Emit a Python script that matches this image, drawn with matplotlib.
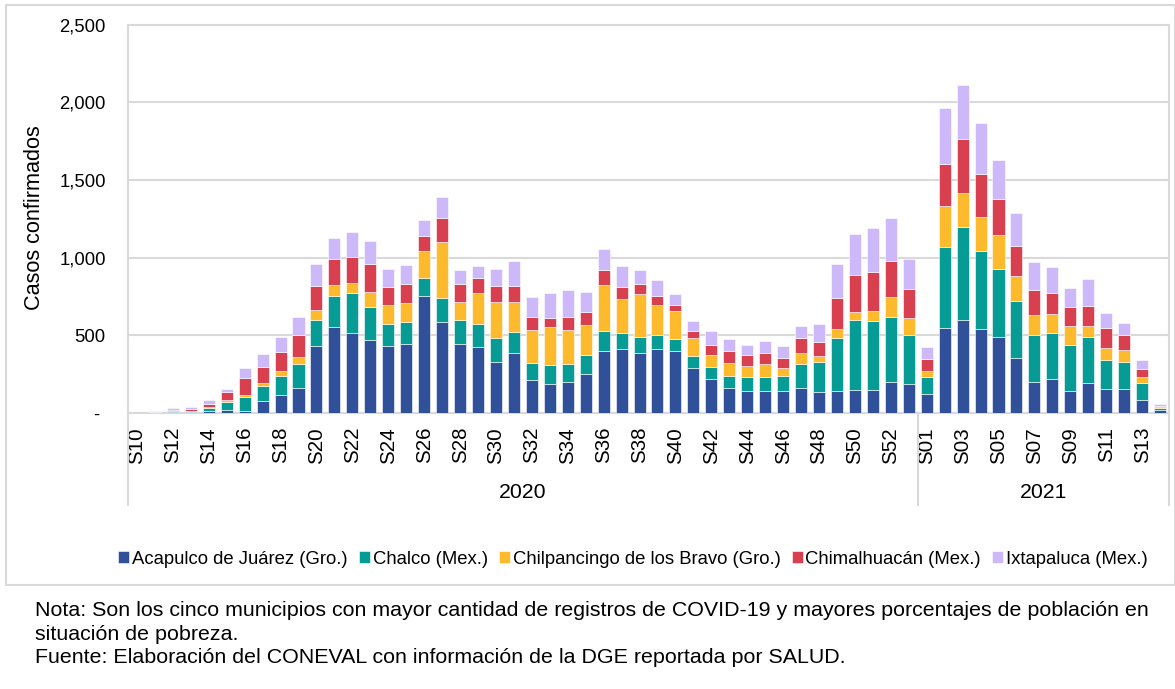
import numpy as np
import matplotlib.pyplot as plt
from matplotlib.patches import Rectangle
from matplotlib.ticker import FuncFormatter, MultipleLocator

plt.rcParams['font.family'] = ['Liberation Sans', 'DejaVu Sans']

# semanas epidemiologicas: 2020 S10-S53, 2021 S01-S14
sem_2020 = ['S%02d' % s for s in range(10, 54)]
sem_2021 = ['S%02d' % s for s in range(1, 15)]
semanas = sem_2020 + sem_2021

acapulco = [0, 1, 6, 4, 11, 19, 15, 80, 116, 163, 434, 551, 514, 467, 428, 445, 755, 583, 447, 422,
            325, 383, 215, 189, 202, 254, 402, 409, 387, 415, 396, 290, 219, 163, 142, 142, 140, 161,
            133, 142, 151, 148, 200, 187,
            123, 546, 598, 542, 488, 353, 198, 219, 144, 194, 153, 157, 86, 17]
chalco = [0, 4, 5, 7, 21, 50, 88, 94, 125, 153, 166, 204, 256, 213, 146, 142, 116, 159, 149, 148,
          157, 140, 108, 121, 114, 118, 127, 105, 103, 90, 82, 76, 76, 76, 90, 90, 99, 153,
          194, 340, 447, 444, 420, 314,
          107, 523, 600, 499, 437, 368, 303, 295, 291, 292, 189, 172, 108, 15]
chilpancingo = [0, 2, 4, 4, 7, 13, 11, 17, 30, 43, 65, 71, 67, 101, 121, 123, 174, 359, 120, 200,
                234, 191, 210, 243, 220, 194, 295, 220, 276, 190, 176, 116, 79, 81, 73, 82, 51, 71,
                39, 60, 49, 64, 126, 108,
                39, 262, 217, 222, 221, 159, 129, 121, 126, 71, 75, 78, 38, 7]
chimalhuacan = [0, 2, 7, 9, 17, 54, 112, 108, 120, 146, 152, 163, 165, 178, 118, 122, 97, 157, 114, 99,
                104, 103, 86, 56, 79, 84, 95, 77, 62, 56, 43, 45, 61, 78, 67, 73, 63, 99,
                92, 200, 241, 250, 235, 189,
                77, 274, 345, 273, 231, 196, 162, 137, 123, 131, 132, 98, 48, 8]
ixtapaluca = [0, 2, 8, 13, 26, 19, 62, 82, 99, 114, 142, 138, 164, 147, 116, 119, 99, 129, 93, 77,
              107, 162, 125, 161, 177, 129, 135, 133, 90, 107, 69, 67, 94, 75, 67, 75, 77, 75,
              112, 217, 263, 284, 273, 192,
              76, 357, 350, 327, 249, 208, 178, 168, 120, 172, 92, 76, 60, 13]

series = [acapulco, chalco, chilpancingo, chimalhuacan, ixtapaluca]
nombres = ['Acapulco de Juárez (Gro.)', 'Chalco (Mex.)', 'Chilpancingo de los Bravo (Gro.)',
           'Chimalhuacán (Mex.)', 'Ixtapaluca (Mex.)']
colores = ['#30509A', '#079B96', '#FDBA2C', '#D8404F', '#CDB8FA']

gris = '#D9D9D9'
fs = 13.3

fig = plt.figure(figsize=(11.75, 6.89), dpi=100)
# marco del area del grafico
fig.patches.append(Rectangle((6 / 1175, 1 - 585 / 689), 1 - 6 / 1175, (585 - 5) / 689,
                             transform=fig.transFigure, fill=False, edgecolor=gris, lw=1.5))

ax = fig.add_axes([128 / 1175, 1 - 413 / 689, (1169 - 128) / 1175, (413 - 24.5) / 689])

x = np.arange(len(semanas))
base = np.zeros(len(semanas))
for vals, nom, col in zip(series, nombres, colores):
    vals = np.array(vals, dtype=float)
    ax.bar(x, vals, 0.67, bottom=base, color=col, edgecolor='white', linewidth=0.4, label=nom, zorder=3)
    base += vals

ax.set_xlim(-0.5, len(semanas) - 0.5)
ax.set_ylim(0, 2500)
ax.yaxis.set_major_locator(MultipleLocator(500))
ax.yaxis.set_major_formatter(FuncFormatter(lambda v, p: '- ' if v == 0 else f'{int(v):,}'))
ax.grid(axis='y', color=gris, lw=1.5, zorder=0)
for s in ax.spines.values():
    s.set_color(gris)
    s.set_linewidth(1.5)
ax.tick_params(axis='y', length=0, pad=16, labelsize=fs)
ax.set_xticks(x[::2])
ax.set_xticklabels(semanas[::2], rotation=90, fontsize=14.8)
ax.tick_params(axis='x', length=0, pad=10)

# segundo nivel del eje: anios
trans = ax.get_xaxis_transform()
y_sep = -92 / 388.5
for xs in [-0.5, len(sem_2020) - 0.5, len(semanas) - 0.5]:
    ax.plot([xs, xs], [0, y_sep], color=gris, lw=1.5, transform=trans, clip_on=False)
ax.text((len(sem_2020) - 1) / 2, -79 / 388.5, '2020', transform=trans, ha='center', va='center', fontsize=15.3)
ax.text(len(sem_2020) + (len(sem_2021) - 1) / 2, -79 / 388.5, '2021', transform=trans,
        ha='center', va='center', fontsize=15.3)

fig.text(35 / 1175, 1 - 218 / 689, 'Casos confirmados', rotation=90, ha='center', va='center', fontsize=15.6)

fig.legend(loc='center', bbox_to_anchor=(633 / 1175, 1 - 559 / 689), ncol=5, frameon=False,
           fontsize=fs, handlelength=0.6, handleheight=0.6, handletextpad=0.15, columnspacing=0.6)

fig.text(35 / 1175, 1 - 601 / 689,
         'Nota: Son los cinco municipios con mayor cantidad de registros de COVID-19 y mayores porcentajes de población en\n'
         'situación de pobreza.\n'
         'Fuente: Elaboración del CONEVAL con información de la DGE reportada por SALUD.',
         ha='left', va='top', fontsize=15.4, linespacing=1.3)
fig.savefig('out.png', dpi=100)
